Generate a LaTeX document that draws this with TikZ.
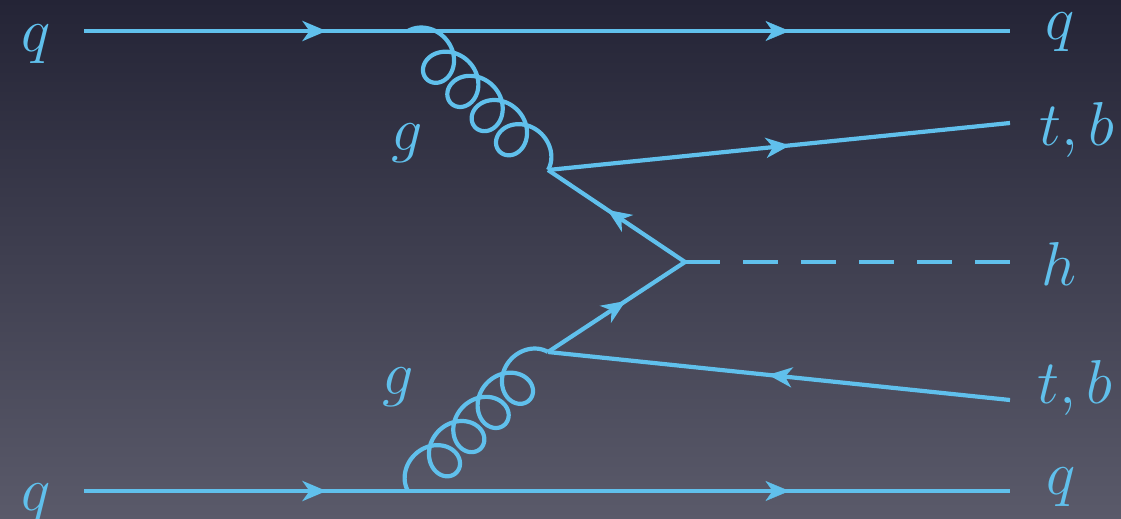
\RequirePackage{fix-cm}
\documentclass[tikz,border=0pt]{standalone}
\usetikzlibrary{arrows.meta,decorations.markings,calc}
\definecolor{fline}{RGB}{96,192,236}
\definecolor{bgtop}{RGB}{36,36,54}
\definecolor{bgbot}{RGB}{90,90,106}
\tikzset{
  fermion/.style={draw=fline, line width=4.2pt, postaction={decorate},
    decoration={markings, mark=at position #1 with {\arrow[xshift=11pt]{Stealth[length=24pt,width=20pt,inset=7pt]}}}},
  fermion/.default=0.5,
  scalarline/.style={draw=fline, line width=4.2pt, dash pattern=on 35pt off 23pt},
  gluonline/.style={draw=fline, line width=4.2pt, line join=round},
  lbl/.style={text=fline, inner sep=0pt, anchor=base west, font=\fontsize{62}{62}\selectfont},
}
% gluon from #1 to #2 with 4 loops
\newcommand\gluonfromto[2]{%
  \path let \p1=($(#2)-(#1)$), \n1={atan2(\y1,\x1)}, \n2={veclen(\x1,\y1)} in
    \pgfextra{\xdef\gang{\n1}\xdef\glen{\n2}};
  \pgfmathsetmacro\gA{21.5}%
  \pgfmathsetmacro\gB{21}%
  \pgfmathsetmacro\gC{(\glen-2*\gA)/(9*pi)}%
  \begin{scope}[shift={(#1)}, rotate=\gang, x=1pt, y=1pt]
    \draw[gluonline] plot[domain=0:9*pi, samples=450, variable=\t]
      ({\gC*\t+\gA*(1-cos(\t r))}, {\gB*sin(\t r)});
  \end{scope}}
\begin{document}
\begin{tikzpicture}[x=1pt,y=-1pt]
\useasboundingbox (0,0) rectangle (1121,519);
\shade[top color=bgtop, bottom color=bgbot] (0,0) rectangle (1121,519);
% vertices
\coordinate (qa) at (84,31);
\coordinate (qb) at (1010,31);
\coordinate (qc) at (84,491);
\coordinate (qd) at (1010,491);
\coordinate (gt) at (408,31);
\coordinate (gb) at (408,491);
\coordinate (vt) at (548,170);
\coordinate (vb) at (548,352);
\coordinate (vh) at (685,262);
\coordinate (ot) at (1010,123);
\coordinate (ob) at (1010,400);
\coordinate (oh) at (1010,262);
% quark lines
\path[fermion=0.25] (qa) -- (qb);
\path[draw=none, postaction={decorate}, decoration={markings, mark=at position 0.75 with {\arrow[xshift=11pt,fline]{Stealth[length=24pt,width=20pt,inset=7pt]}}}] (qa) -- (qb);
\path[fermion=0.25] (qc) -- (qd);
\path[draw=none, postaction={decorate}, decoration={markings, mark=at position 0.75 with {\arrow[xshift=11pt,fline]{Stealth[length=24pt,width=20pt,inset=7pt]}}}] (qc) -- (qd);
% gluons
\gluonfromto{gt}{vt}
\gluonfromto{gb}{vb}
% top/bottom loop
\path[fermion] (vt) -- (ot);
\path[fermion] (vh) -- (vt);
\path[fermion] (vb) -- (vh);
\path[fermion] (ob) -- (vb);
\path[scalarline] (vh) -- (oh);
% labels
\node[lbl] (l1) at (21,52) {$q$};
\node[lbl] (l2) at (21,510) {$q$};
\node[lbl] (l3) at (1045,40) {$q$};
\node[lbl] (l4) at (1046,494) {$q$};
\node[lbl] (l5) at (1039,145) {$t,b$};
\node[lbl] (l6) at (1037,403) {$t,b$};
\node[lbl] (l7) at (1041,285) {$h$};
\node[lbl] (l8) at (391,150) {$g$};
\node[lbl] (l9) at (382,394) {$g$};
\end{tikzpicture}
\end{document}
